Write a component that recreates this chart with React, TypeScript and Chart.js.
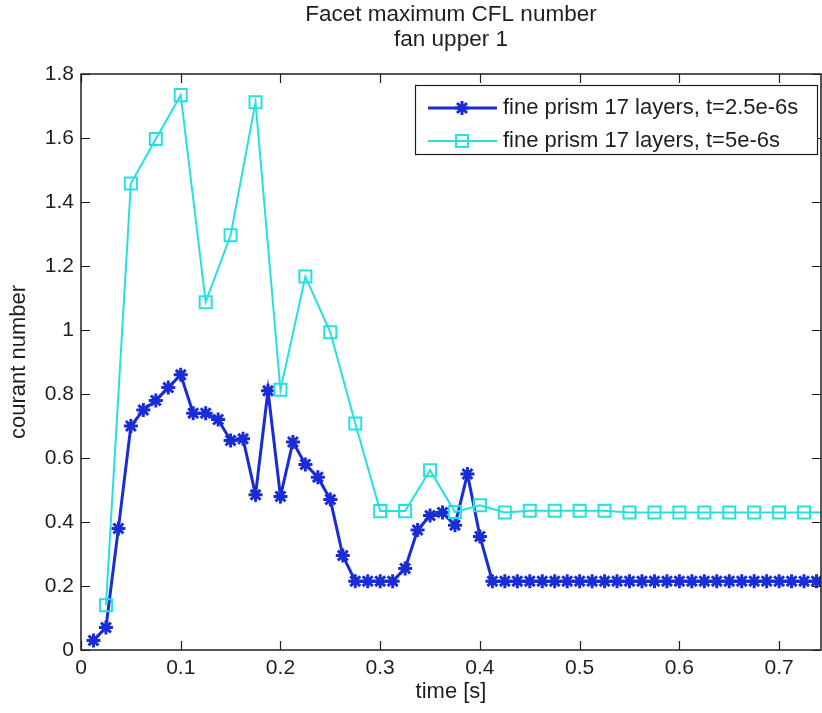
import React, { useEffect, useRef } from "react";
import { Chart, registerables } from "chart.js";

Chart.register(...registerables);

// Time stamps [s] and facet max CFL for the 2.5e-6 s time step run
const fineTimes = [
  0.0125, 0.025, 0.0375, 0.05, 0.0625, 0.075, 0.0875, 0.1, 0.1125, 0.125,
  0.1375, 0.15, 0.1625, 0.175, 0.1875, 0.2, 0.2125, 0.225, 0.2375, 0.25,
  0.2625, 0.275, 0.2875, 0.3, 0.3125, 0.325, 0.3375, 0.35, 0.3625, 0.375,
  0.3875, 0.4, 0.4125, 0.425, 0.4375, 0.45, 0.4625, 0.475, 0.4875, 0.5,
  0.5125, 0.525, 0.5375, 0.55, 0.5625, 0.575, 0.5875, 0.6, 0.6125, 0.625,
  0.6375, 0.65, 0.6625, 0.675, 0.6875, 0.7, 0.7125, 0.725, 0.7375, 0.75,
];
const fineCfl = [
  0.03, 0.07, 0.38, 0.7, 0.75, 0.78, 0.82, 0.86, 0.74, 0.74,
  0.72, 0.655, 0.66, 0.485, 0.81, 0.48, 0.65, 0.58, 0.54, 0.47,
  0.295, 0.215, 0.215, 0.215, 0.215, 0.255, 0.375, 0.42, 0.43, 0.39,
  0.55, 0.355, 0.215, 0.215, 0.215, 0.215, 0.215, 0.215, 0.215, 0.215,
  0.215, 0.215, 0.215, 0.215, 0.215, 0.215, 0.215, 0.215, 0.215, 0.215,
  0.215, 0.215, 0.215, 0.215, 0.215, 0.215, 0.215, 0.215, 0.215, 0.215,
];

// Time stamps [s] and facet max CFL for the 5e-6 s time step run
const coarseTimes = [
  0.025, 0.05, 0.075, 0.1, 0.125, 0.15, 0.175, 0.2, 0.225, 0.25,
  0.275, 0.3, 0.325, 0.35, 0.375, 0.4, 0.425, 0.45, 0.475, 0.5,
  0.525, 0.55, 0.575, 0.6, 0.625, 0.65, 0.675, 0.7, 0.725, 0.75,
];
const coarseCfl = [
  0.14, 1.458, 1.597, 1.734, 1.087, 1.296, 1.712, 0.813, 1.167, 0.993,
  0.708, 0.434, 0.434, 0.562, 0.431, 0.452, 0.43, 0.435, 0.435, 0.435,
  0.435, 0.43, 0.43, 0.43, 0.43, 0.43, 0.43, 0.43, 0.43, 0.43,
];

const xTicks = [0, 0.1, 0.2, 0.3, 0.4, 0.5, 0.6, 0.7];
const yTicks = [0, 0.2, 0.4, 0.6, 0.8, 1, 1.2, 1.4, 1.6, 1.8];
const xRange = [0, 0.742];
const yRange = [0, 1.8];

const seriesLabels = [
  "fine prism 17 layers, t=2.5e-6s",
  "fine prism 17 layers, t=5e-6s",
];
const titleLines = ["Facet maximum CFL number", "fan upper 1"];
const xTitle = "time [s]";
const yTitle = "courant number";

const BLUE = "#1a2dd4";
const CYAN = "#26e0e0";
const INK = "#1e1e1e";
const FONT = '"Liberation Sans", Arial, sans-serif';

const W = 822;
const H = 713;

function fmt(v: number) {
  return String(+v.toFixed(2));
}

function label(
  ctx: CanvasRenderingContext2D,
  s: string,
  x: number,
  y: number,
  size: number,
  align: CanvasTextAlign,
  rotate = 0
) {
  ctx.save();
  ctx.translate(x, y);
  if (rotate) ctx.rotate(rotate);
  ctx.font = `${size}px ${FONT}`;
  ctx.fillStyle = INK;
  ctx.textAlign = align;
  ctx.textBaseline = "middle";
  ctx.fillText(s, 0, 0);
  ctx.restore();
}

function drawMarker(
  ctx: CanvasRenderingContext2D,
  style: string,
  x: number,
  y: number,
  r: number
) {
  ctx.beginPath();
  if (style === "rect") {
    const s = Math.SQRT1_2 * r;
    ctx.rect(x - s, y - s, 2 * s, 2 * s);
  } else {
    for (let k = 0; k < 4; k++) {
      const ang = (k * Math.PI) / 4;
      ctx.moveTo(x - Math.cos(ang) * r, y - Math.sin(ang) * r);
      ctx.lineTo(x + Math.cos(ang) * r, y + Math.sin(ang) * r);
    }
  }
  ctx.stroke();
}

// Boxed axes with inward ticks, tick labels, titles and a framed legend
const framePlugin = {
  id: "frame",
  afterDraw(chart: any) {
    const { ctx, chartArea: a, scales } = chart;
    const xs = scales.x;
    const ys = scales.y;
    const tick = 9;

    ctx.save();
    ctx.strokeStyle = INK;
    ctx.lineWidth = 1.5;
    ctx.strokeRect(a.left, a.top, a.right - a.left, a.bottom - a.top);

    ctx.beginPath();
    for (const v of xTicks) {
      const px = Math.round(xs.getPixelForValue(v)) + 0.5;
      ctx.moveTo(px, a.bottom);
      ctx.lineTo(px, a.bottom - tick);
      ctx.moveTo(px, a.top);
      ctx.lineTo(px, a.top + tick);
    }
    for (const v of yTicks) {
      const py = Math.round(ys.getPixelForValue(v)) + 0.5;
      ctx.moveTo(a.left, py);
      ctx.lineTo(a.left + tick, py);
      ctx.moveTo(a.right, py);
      ctx.lineTo(a.right - tick, py);
    }
    ctx.lineWidth = 1.2;
    ctx.stroke();
    ctx.restore();

    for (const v of xTicks) {
      label(ctx, fmt(v), xs.getPixelForValue(v), a.bottom + 18, 21, "center");
    }
    for (const v of yTicks) {
      label(ctx, fmt(v), a.left - 7, ys.getPixelForValue(v), 21, "right");
    }

    const cx = (a.left + a.right) / 2;
    label(ctx, xTitle, cx, a.bottom + 42, 22, "center");
    label(ctx, yTitle, 19, (a.top + a.bottom) / 2, 22, "center", -Math.PI / 2);
    label(ctx, titleLines[0], cx, 15, 22.5, "center");
    label(ctx, titleLines[1], cx, 40, 22.5, "center");

    // legend
    const lx = 415;
    const ly = 85;
    const lw = 402;
    const lh = 69;
    ctx.save();
    ctx.fillStyle = "#ffffff";
    ctx.fillRect(lx, ly, lw, lh);
    ctx.strokeStyle = INK;
    ctx.lineWidth = 1.2;
    ctx.strokeRect(lx + 0.5, ly + 0.5, lw, lh);
    ctx.restore();

    chart.data.datasets.forEach((ds: any, i: number) => {
      const rowY = ly + 23 + i * 33;
      ctx.save();
      ctx.strokeStyle = ds.borderColor;
      ctx.lineWidth = ds.borderWidth;
      ctx.beginPath();
      ctx.moveTo(lx + 13, rowY);
      ctx.lineTo(lx + 82, rowY);
      ctx.stroke();
      ctx.lineWidth = ds.pointBorderWidth;
      drawMarker(ctx, ds.pointStyle, lx + 47, rowY, ds.pointRadius);
      ctx.restore();
      label(ctx, ds.label, lx + 88, rowY, 22, "left");
    });
  },
};

export default function App() {
  const ref = useRef<HTMLCanvasElement | null>(null);

  useEffect(() => {
    if (!ref.current) return;
    const chart = new Chart(ref.current, {
      type: "line",
      data: {
        datasets: [
          {
            label: seriesLabels[0],
            data: fineTimes.map((t, i) => ({ x: t, y: fineCfl[i] })),
            borderColor: BLUE,
            backgroundColor: BLUE,
            borderWidth: 3,
            pointStyle: "star",
            pointRadius: 7,
            pointBorderWidth: 3,
            pointBorderColor: BLUE,
            pointBackgroundColor: BLUE,
            tension: 0,
            order: 1,
          },
          {
            label: seriesLabels[1],
            data: coarseTimes.map((t, i) => ({ x: t, y: coarseCfl[i] })),
            borderColor: CYAN,
            backgroundColor: "transparent",
            borderWidth: 2,
            pointStyle: "rect",
            pointRadius: 8.5,
            pointBorderWidth: 2,
            pointBorderColor: CYAN,
            pointBackgroundColor: "transparent",
            tension: 0,
            order: 0,
          },
        ],
      },
      options: {
        responsive: false,
        maintainAspectRatio: false,
        animation: false,
        layout: {
          autoPadding: false,
          padding: { left: 81, top: 74, right: 1, bottom: 63 },
        },
        plugins: {
          legend: { display: false },
          title: { display: false },
          tooltip: { enabled: false },
        },
        scales: {
          x: { type: "linear", display: false, min: xRange[0], max: xRange[1] },
          y: { type: "linear", display: false, min: yRange[0], max: yRange[1] },
        },
      },
      plugins: [framePlugin],
    });
    return () => chart.destroy();
  }, []);

  return (
    <div
      style={{
        position: "fixed",
        left: 0,
        top: 0,
        width: W,
        height: H,
        background: "#ffffff",
      }}
    >
      <canvas ref={ref} width={W} height={H} style={{ display: "block" }} />
    </div>
  );
}
